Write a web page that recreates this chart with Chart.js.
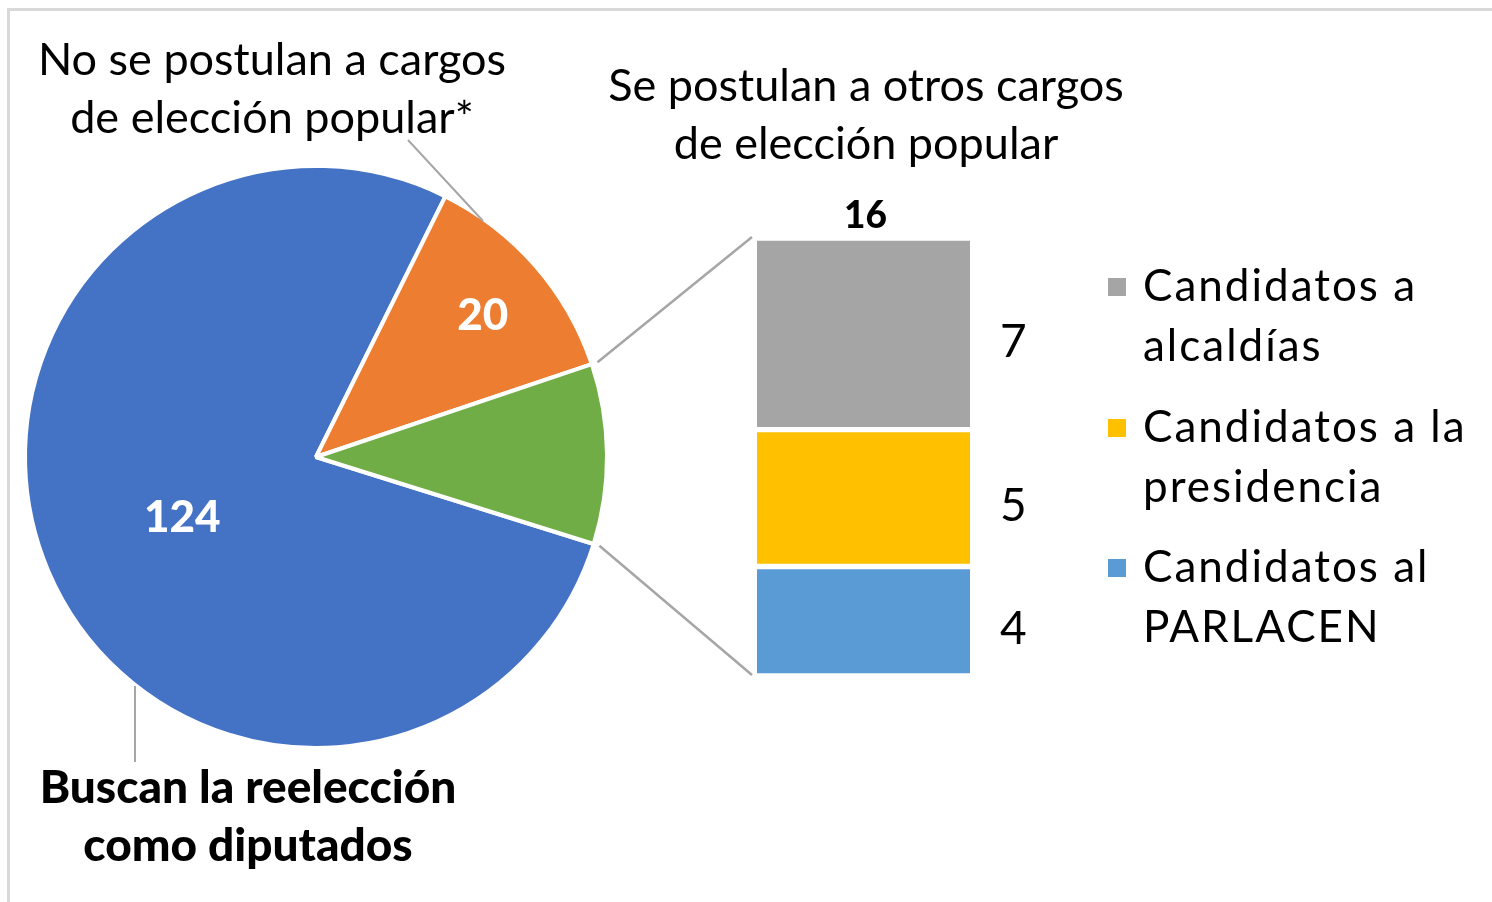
<!DOCTYPE html>
<html>
<head>
<meta charset="utf-8">
<script src="https://cdn.jsdelivr.net/npm/chart.js@4"></script>
<style>
  body { margin: 0; background: #fff; }
  #wrap { position: relative; width: 1492px; height: 902px; overflow: hidden; }
  #frame { position: absolute; left: 7px; top: 8px; width: 1500px; height: 910px; border: 3px solid #d9d9d9; box-sizing: border-box; }
  canvas { position: absolute; left: 0; top: 0; }
</style>
</head>
<body>
<div id="wrap">
  <div id="frame"></div>
  <canvas id="pie-chart" width="1492" height="902"></canvas>
  <canvas id="bar-chart" width="1492" height="902"></canvas>
</div>
<script>
// datos del gráfico
var pieLabels = ['Buscan la reelección como diputados', 'No se postulan a cargos de elección popular*', 'Se postulan a otros cargos de elección popular'];
var pieValues = [124, 20, 16];
var pieColors = ['#4472C4', '#ED7D31', '#70AD47'];

var barCategories = ['Otros cargos'];
var barLabels = ['Candidatos a alcaldías', 'Candidatos a la presidencia', 'Candidatos al PARLACEN'];
var barValues = [7, 5, 4];
var barColors = ['#A5A5A5', '#FFC000', '#5B9BD5'];
// líneas de leyenda (texto partido como en el original)
var legendLines = [['Candidatos a', 'alcaldías'], ['Candidatos a la', 'presidencia'], ['Candidatos al', 'PARLACEN']];

var FONT = 'Lato, "Open Sans", sans-serif';

// textos y etiquetas del pastel
var pieText = {
  id: 'pieText',
  afterDatasetsDraw: function (chart) {
    var c = chart.ctx;
    var meta = chart.getDatasetMeta(0);
    var labelPos = [0.5, 0.76, null];
    c.save();
    c.fillStyle = '#fff';
    c.font = '900 44px ' + FONT;
    c.textAlign = 'center';
    c.textBaseline = 'middle';
    meta.data.forEach(function (arc, i) {
      if (labelPos[i] == null) return;
      var p = arc.getProps(['x', 'y', 'startAngle', 'endAngle', 'outerRadius'], true);
      var a = (p.startAngle + p.endAngle) / 2;
      var r = p.outerRadius * labelPos[i];
      c.fillText(pieValues[i], p.x + Math.cos(a) * r, p.y + Math.sin(a) * r + 4);
    });

    // títulos
    c.fillStyle = '#000';
    c.font = '45px ' + FONT;
    c.fillText('No se postulan a cargos', 272, 60);
    c.fillText('de elección popular*', 272, 118);
    c.fillText('Se postulan a otros cargos', 866, 86);
    c.fillText('de elección popular', 866, 144);
    c.font = '900 46px ' + FONT;
    c.fillText('Buscan la reelección', 248, 788);
    c.fillText('como diputados', 248, 846);

    // líneas guía
    c.strokeStyle = '#a6a6a6';
    c.lineWidth = 2;
    c.beginPath();
    c.moveTo(408, 140); c.lineTo(483, 221);
    c.moveTo(135, 686); c.lineTo(135, 762);
    c.stroke();
    c.restore();
  }
};

var pieChart = new Chart(document.getElementById('pie-chart').getContext('2d'), {
  type: 'pie',
  data: {
    labels: pieLabels,
    datasets: [{
      data: pieValues,
      backgroundColor: pieColors,
      borderColor: '#fff',
      borderWidth: 4
    }]
  },
  options: {
    responsive: false,
    animation: false,
    rotation: 107.4,
    radius: 291,
    layout: { padding: { left: 25, top: 166, right: 885, bottom: 154 } },
    plugins: { legend: { display: false }, tooltip: { enabled: false } }
  },
  plugins: [pieText]
});

// valores, total, leyenda y conectores de la barra
var barText = {
  id: 'barText',
  afterDatasetsDraw: function (chart) {
    var c = chart.ctx;
    c.save();
    c.textBaseline = 'middle';
    var top = null, bottom = null;
    chart.data.datasets.forEach(function (ds, i) {
      var bar = chart.getDatasetMeta(i).data[0];
      var p = bar.getProps(['x', 'y', 'base', 'width'], true);
      c.fillStyle = '#000';
      c.font = '46px ' + FONT;
      c.textAlign = 'left';
      c.fillText(ds.data[0], p.x + p.width / 2 + 30, (p.y + p.base) / 2 + 8);
      if (top === null || p.y < top.y) top = p;
      if (bottom === null || p.base > bottom.base) bottom = p;
    });
    var total = barValues.reduce(function (s, v) { return s + v; }, 0);
    c.font = '900 37px ' + FONT;
    c.textAlign = 'center';
    c.fillText(total, top.x + 2, top.y - 22);

    // leyenda
    c.textAlign = 'left';
    c.font = '44px ' + FONT;
    c.letterSpacing = '2px';
    var ly = [287, 428, 568];
    legendLines.forEach(function (lines, i) {
      c.fillStyle = barColors[i];
      c.fillRect(1108, ly[i] - 9, 18, 18);
      c.fillStyle = '#000';
      c.fillText(lines[0], 1143, ly[i]);
      c.fillText(lines[1], 1143, ly[i] + 60);
    });
    c.letterSpacing = '0px';

    // conectores desde la porción verde
    var arc = pieChart.getDatasetMeta(0).data[2];
    var a = arc.getProps(['x', 'y', 'startAngle', 'endAngle', 'outerRadius'], true);
    var left = top.x - top.width / 2 - 5;
    c.strokeStyle = '#a6a6a6';
    c.lineWidth = 2.5;
    c.beginPath();
    c.moveTo(a.x + Math.cos(a.startAngle) * (a.outerRadius + 6), a.y + Math.sin(a.startAngle) * (a.outerRadius + 6));
    c.lineTo(left, top.y - 1);
    c.moveTo(a.x + Math.cos(a.endAngle) * (a.outerRadius + 6), a.y + Math.sin(a.endAngle) * (a.outerRadius + 6));
    c.lineTo(left, bottom.base - 1);
    c.stroke();
    c.restore();
  }
};

// la pila se dibuja de abajo hacia arriba: PARLACEN, presidencia, alcaldías
var stackOrder = [2, 1, 0];
var barChart = new Chart(document.getElementById('bar-chart').getContext('2d'), {
  type: 'bar',
  data: {
    labels: barCategories,
    datasets: stackOrder.map(function (i) {
      return {
        label: barLabels[i],
        data: [barValues[i]],
        backgroundColor: barColors[i],
        borderColor: '#fff',
        borderWidth: { top: 3, bottom: 3, left: 0, right: 0 },
        borderSkipped: false,
        barPercentage: 1,
        categoryPercentage: 1
      };
    })
  },
  options: {
    responsive: false,
    animation: false,
    layout: { padding: { left: 757, top: 238, right: 522, bottom: 226 } },
    scales: {
      x: { display: false, stacked: true },
      y: { display: false, stacked: true, min: 0, max: 16 }
    },
    plugins: { legend: { display: false }, tooltip: { enabled: false } }
  },
  plugins: [barText]
});
</script>
</body>
</html>
